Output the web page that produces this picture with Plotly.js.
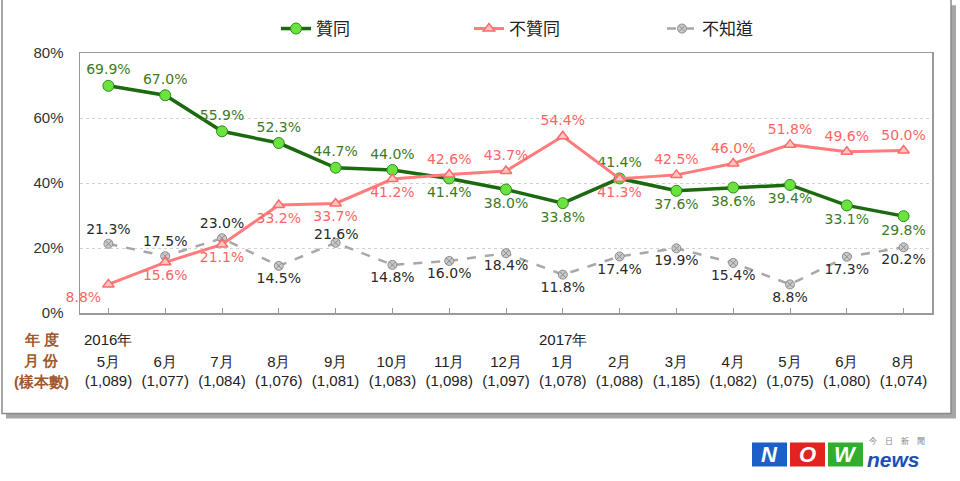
<!DOCTYPE html>
<html>
<head>
<meta charset="utf-8">
<script src="https://cdn.plot.ly/plotly-3.0.1.min.js"></script>
<style>
  html, body { margin: 0; padding: 0; background: #fff; }
  #chart { width: 960px; height: 481px; }
</style>
</head>
<body>
<div id="chart"></div>
<script>
// survey months (May 2016 - Aug 2017)
var months = ["5月", "6月", "7月", "8月", "9月", "10月", "11月", "12月", "1月", "2月", "3月", "4月", "5月", "6月", "8月"];
var years = ["2016年", "", "", "", "", "", "", "", "2017年", "", "", "", "", "", ""];
var samples = ["1,089", "1,077", "1,084", "1,076", "1,081", "1,083", "1,098", "1,097", "1,078", "1,088", "1,185", "1,082", "1,075", "1,080", "1,074"];

var agree = [69.9, 67.0, 55.9, 52.3, 44.7, 44.0, 41.4, 38.0, 33.8, 41.4, 37.6, 38.6, 39.4, 33.1, 29.8];
var disagree = [8.8, 15.6, 21.1, 33.2, 33.7, 41.2, 42.6, 43.7, 54.4, 41.3, 42.5, 46.0, 51.8, 49.6, 50.0];
var unknown = [21.3, 17.5, 23.0, 14.5, 21.6, 14.8, 16.0, 18.4, 11.8, 17.4, 19.9, 15.4, 8.8, 17.3, 20.2];

var agreePos = ["top center", "top center", "top center", "top center", "top center", "top center", "bottom center", "bottom center",
  "bottom center", "top center", "bottom center", "bottom center", "bottom center", "bottom center", "bottom center"];
var disagreePos = ["bottom left", "bottom center", "bottom center", "bottom center", "bottom center", "bottom center", "top center", "top center",
  "top center", "bottom center", "top center", "top center", "top center", "top center", "top center"];
var unknownPos = ["top center", "top center", "top center", "bottom center", "top center", "bottom center", "bottom center", "bottom center",
  "bottom center", "bottom center", "bottom center", "bottom center", "bottom center", "bottom center", "bottom center"];

var idx = months.map((m, i) => i);
var pct = arr => arr.map(v => v.toFixed(1) + "%");

// 21.6% (Sep 2016) sits tight on its marker, so it is drawn as an annotation
var tightIdx = 4;
var unknownText = pct(unknown).map((t, i) => i === tightIdx ? "" : t);

// pixel -> paper helpers (plot area 80..932 x 52..313)
var L = 80, R = 28, T = 52, B = 168, W = 960 - L - R, H = 481 - T - B;
var px = x => (x - L) / W;
var py = y => (481 - B - y) / H;

var traceUnknown = {
    x: idx, y: unknown, name: "不知道", legendrank: 3,
    mode: "lines+markers+text", text: unknownText, textposition: unknownPos,
    textfont: {family: "DejaVu Sans", size: 14, color: "#2a2a2a"},
    line: {color: "#a8a8a8", width: 2.5, dash: "dash"},
    marker: {symbol: "circle-x", size: 9, color: "#c9c9c9", line: {color: "#8c8c8c", width: 1}},
    cliponaxis: false
};

var traceAgree = {
    x: idx, y: agree, name: "贊同", legendrank: 1,
    mode: "lines+markers+text", text: pct(agree), textposition: agreePos,
    textfont: {family: "DejaVu Sans", size: 14, color: "#3d7a25"},
    line: {color: "#1b6a0f", width: 3.5},
    marker: {symbol: "circle", size: 11, color: "#6ae33e", line: {color: "#2c8a1a", width: 1}},
    cliponaxis: false
};

var traceDisagree = {
    x: idx, y: disagree, name: "不贊同", legendrank: 2,
    mode: "lines+markers+text", text: pct(disagree), textposition: disagreePos,
    textfont: {family: "DejaVu Sans", size: 14, color: "#ff6464"},
    line: {color: "#ff7c7c", width: 3},
    marker: {symbol: "triangle-up", size: 10, color: "#ffc4c4", line: {color: "#ff6a6a", width: 1.5}},
    cliponaxis: false
};

var annotations = [];
annotations.push({x: tightIdx, xref: "x", y: unknown[tightIdx], yref: "y", xanchor: "center", yanchor: "middle", yshift: 9,
    text: pct(unknown)[tightIdx], showarrow: false, font: {family: "DejaVu Sans", size: 14, color: "#2a2a2a"}});
years.forEach(function (y, i) {
    if (y) annotations.push({x: i, xref: "x", xanchor: "center", y: py(340), yref: "paper", yanchor: "middle",
        text: y, showarrow: false, font: {family: "Liberation Sans", size: 15, color: "#222"}});
});
[["年 度", 340], ["月 份", 361], ["(樣本數)", 382]].forEach(function (h) {
    annotations.push({x: px(41), xref: "paper", xanchor: "center", y: py(h[1]), yref: "paper", yanchor: "middle",
        text: "<b>" + h[0] + "</b>", showarrow: false, font: {family: "Liberation Sans", size: 15, color: "#a0582c"}});
});

// NOWnews logo
var logoBoxes = [["N", 752, "#1d5fc9"], ["O", 790, "#e2231f"], ["W", 828, "#2fae2f"]];
var shapes = [
    {type: "rect", xref: "paper", yref: "paper", x0: px(6), x1: px(956), y0: py(419), y1: py(4), fillcolor: "#a5a5a5", line: {width: 0}, layer: "below"},
    {type: "rect", xref: "paper", yref: "paper", x0: px(2), x1: px(951), y0: py(414), y1: py(-2), fillcolor: "#fff", line: {color: "#8a8a8a", width: 1.5}, layer: "below"}
];
logoBoxes.forEach(function (b) {
    shapes.push({type: "rect", xref: "paper", yref: "paper", x0: px(b[1]), x1: px(b[1] + 35), y0: py(467), y1: py(443),
        fillcolor: b[2], line: {width: 0}});
    annotations.push({x: px(b[1] + 17.5), xref: "paper", xanchor: "center", y: py(455), yref: "paper", yanchor: "middle",
        text: "<b><i>" + b[0] + "</i></b>", showarrow: false, font: {family: "Liberation Sans", size: 22, color: "#fff"}});
});
annotations.push({x: px(865), xref: "paper", xanchor: "left", y: py(460), yref: "paper", yanchor: "middle",
    text: "<b><i>news</i></b>", showarrow: false, font: {family: "Liberation Sans", size: 21, color: "#1d4fb5"}});
annotations.push({x: px(897), xref: "paper", xanchor: "center", y: py(441), yref: "paper", yanchor: "middle",
    text: "今　日　新　聞", showarrow: false, font: {family: "Noto Sans CJK TC", size: 8, color: "#888"}});

var layout = {
    width: 960, height: 481,
    margin: {l: L, r: R, t: T, b: B},
    paper_bgcolor: "#fff",
    plot_bgcolor: "rgba(0,0,0,0)",
    showlegend: true,
    legend: {orientation: "h", x: px(276), xanchor: "left", y: py(29), yanchor: "middle",
        entrywidth: 148, entrywidthmode: "pixels",
        font: {family: "Noto Sans CJK TC", size: 17, color: "#222"}},
    xaxis: {
        range: [-0.5, 14.5], tickmode: "array", tickvals: idx,
        ticktext: months.map((m, i) => m + "<br>(" + samples[i] + ")"),
        tickson: "boundaries", ticks: "inside", ticklen: 5, tickcolor: "#999",
        showline: true, linecolor: "#999", linewidth: 1.5, mirror: true,
        showgrid: false, zeroline: false, ticklabelstandoff: 34,
        tickfont: {family: "Liberation Sans", size: 15, color: "#222"}
    },
    yaxis: {
        range: [0, 80], tickmode: "array", tickvals: [0, 20, 40, 60, 80],
        ticktext: ["0%", "20%", "40%", "60%", "80%"],
        showline: true, linecolor: "#999", linewidth: 1.5, mirror: true,
        showgrid: true, gridcolor: "#d2d2d2", griddash: "dot", zeroline: false,
        ticks: "", ticklabelstandoff: 12,
        tickfont: {family: "Liberation Sans", size: 15, color: "#333"}
    },
    shapes: shapes,
    annotations: annotations
};

Plotly.newPlot("chart", [traceUnknown, traceAgree, traceDisagree], layout, {displayModeBar: false, staticPlot: true});
</script>
</body>
</html>
